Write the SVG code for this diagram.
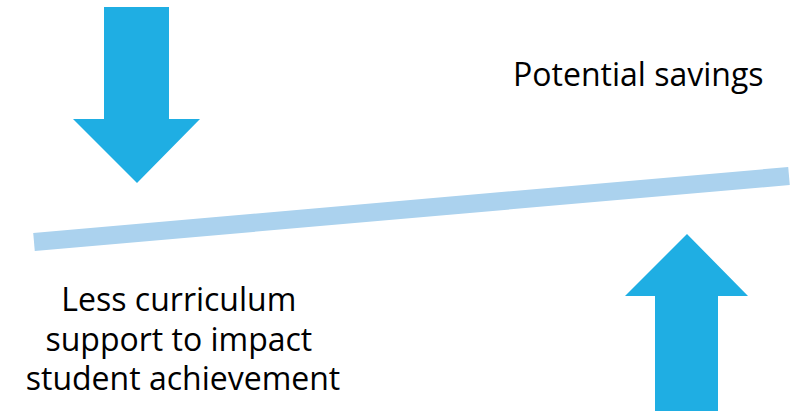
<svg xmlns="http://www.w3.org/2000/svg" width="790" height="411" viewBox="0 0 790 411">
<style>
.arrow{fill:#1FAEE3}
.beam{stroke:#ABD2EE;stroke-width:18;fill:none}
.lbl{font-family:"Open Sans","Liberation Sans",sans-serif;fill:#000}
</style>
<rect width="790" height="411" fill="#fff"/>
<g id="connectors">
<line class="beam" x1="34" y1="242" x2="789" y2="176"/>
</g>
<g id="arrow-down">
<polygon class="arrow" points="104,7 169,7 169,119 200,119 137,183 73,119 104,119"/>
</g>
<g id="arrow-up">
<polygon class="arrow" points="687,234 748,296 718,296 718,411 655,411 655,296 625,296"/>
</g>
<g id="label-savings">
<text class="lbl" x="513" y="86" font-size="32">Potential savings</text>
</g>
<g id="label-curriculum">
<text class="lbl" text-anchor="middle" font-size="32">
<tspan x="183" y="311">Less curriculum</tspan>
<tspan x="183" y="351">support to impact</tspan>
<tspan x="183" y="390">student achievement</tspan>
</text>
</g>
</svg>
